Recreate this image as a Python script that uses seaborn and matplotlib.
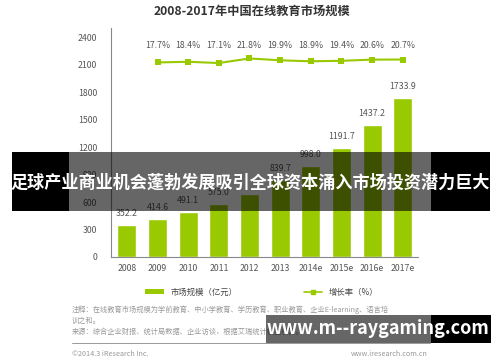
import matplotlib
matplotlib.use('Agg')
import matplotlib.pyplot as plt
import matplotlib.transforms as mtransforms
import seaborn as sns
import numpy as np
import pandas as pd
from matplotlib.patches import Patch, Rectangle
from matplotlib.lines import Line2D

# 数据
years = ['2008', '2009', '2010', '2011', '2012', '2013', '2014e', '2015e', '2016e', '2017e']
market_size = [352.2, 414.6, 491.1, 575.0, 690.0, 839.7, 998.0, 1191.7, 1437.2, 1733.9]
size_labels = ['352.2', '414.6', '491.1', '575.0', '', '839.7', '998.0', '1191.7', '1437.2', '1733.9']
growth = [17.7, 18.4, 17.1, 21.8, 19.9, 18.9, 19.4, 20.6, 20.7]
growth_labels = ['17.7%', '18.4%', '17.1%', '21.8%', '19.9%', '18.9%', '19.4%', '20.6%', '20.7%']
yticks = [0, 300, 600, 900, 1200, 1500, 1800, 2100, 2400]

sns.set_style('white')
plt.rcParams['font.family'] = ['Noto Sans CJK SC', 'DejaVu Sans']

GREEN = '#99c900'
GRAY = '#555555'
W, H = 500, 362

fig = plt.figure(figsize=(5, 3.62), dpi=100)
fig.patch.set_facecolor('white')
ax = fig.add_axes([111 / W, 1 - 257 / H, 307 / W, 229 / H])

df = pd.DataFrame({'年份': years, '市场规模': market_size})
sns.barplot(data=df, x='年份', y='市场规模', color=GREEN, width=0.62,
            saturation=1, ax=ax)
ax.set_xlim(-0.52, 9.5)
ax.set_ylim(0, 2500)
ax.set_yticks(yticks)
ax.set_yticklabels([str(t) for t in yticks])
ax.tick_params(axis='both', length=0, labelsize=6.3, colors=GRAY)
ax.tick_params(axis='y', pad=10)
ax.tick_params(axis='x', pad=5)
ax.set_xlabel('')
ax.set_ylabel('')
for s in ['top', 'right']:
    ax.spines[s].set_visible(False)
for s in ['left', 'bottom']:
    ax.spines[s].set_color('#888888')
    ax.spines[s].set_linewidth(0.8)

for i, (v, lab) in enumerate(zip(market_size, size_labels)):
    if lab:
        ax.annotate(lab, (i, v), xytext=(0, 5), textcoords='offset points',
                    ha='center', va='bottom', fontsize=6.3, color=GRAY)

# 增长率
ax2 = ax.twinx()
gx = np.arange(1, 10)
sns.lineplot(x=gx, y=growth, ax=ax2, color=GREEN, marker='s', markersize=5,
             markeredgewidth=0, linewidth=1.5)
ax2.set_ylim(-181.6, 53.0)
ax2.set_xlim(-0.52, 9.5)
ax2.axis('off')
trans = mtransforms.blended_transform_factory(ax2.transData, ax2.transAxes)
for x, lab in zip(gx, growth_labels):
    ax2.text(x, (257 - 45) / 229, lab, transform=trans, ha='center', va='center',
             fontsize=6.3, color=GRAY)

# 标题
fig.text(252 / W, 1 - 11 / H, '2008-2017年中国在线教育市场规模', ha='center', va='center',
         fontsize=8.8, fontweight='bold', color='#333333')

# 图例
handles = [Patch(facecolor=GREEN, edgecolor='none'),
           Line2D([0], [0], color=GREEN, marker='s', markersize=3.5, lw=1.2)]
fig.legend(handles, ['市场规模（亿元）', '增长率（%）'], loc='center',
           bbox_to_anchor=(262 / W, 1 - 292 / H), ncol=2, frameon=False,
           fontsize=6, handlelength=2.2, handleheight=0.5, columnspacing=8,
           labelcolor='#444444')

# 注释
note_c = '#999999'
fig.text(72 / W, 1 - 310 / H, '注释：在线教育市场规模为学前教育、中小学教育、学历教育、职业教育、企业E-learning、语言培',
         fontsize=5.2, color=note_c, va='center')
fig.text(72 / W, 1 - 321 / H, '训之和。', fontsize=5.2, color=note_c, va='center')
fig.text(72 / W, 1 - 332 / H, '来源：综合企业财报、统计局数据、企业访谈，根据艾瑞统计模型核算。',
         fontsize=5.2, color=note_c, va='center')
fig.add_artist(Line2D([72 / W, 430 / W], [1 - 343 / H, 1 - 343 / H], color='#999999', lw=0.7))
fig.text(72 / W, 1 - 354 / H, '©2014.3 iResearch Inc.', fontsize=5.2, color=note_c, va='center')
fig.text(428 / W, 1 - 354 / H, 'www.iresearch.com.cn', fontsize=5.2, color=note_c,
         va='center', ha='right')

# 横幅
def box(x0, y0, x1, y1, alpha):
    fig.add_artist(Rectangle((x0 / W, 1 - y1 / H), (x1 - x0) / W, (y1 - y0) / H,
                             transform=fig.transFigure, facecolor='black',
                             edgecolor='none', alpha=alpha, zorder=10))

box(12, 152, 69, 211, 1.0)
box(69, 152, 431, 211, 0.6)
box(431, 152, 490, 211, 1.0)
fig.text(250 / W, 1 - 183 / H, '足球产业商业机会蓬勃发展吸引全球资本涌入市场投资潜力巨大',
         ha='center', va='center', fontsize=12.3, fontweight='bold', color='white', zorder=11)

box(266, 315, 431, 343, 0.6)
box(431, 315, 491, 343, 1.0)
fig.text(378 / W, 1 - 329 / H, 'www.m--raygaming.com', ha='center', va='center',
         fontsize=13, fontweight='bold', color='white', zorder=11)

fig.savefig('out.png', dpi=100)
